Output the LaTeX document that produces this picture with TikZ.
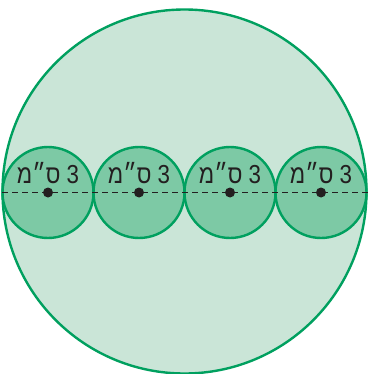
\documentclass[tikz,border=0pt]{standalone}
\usepackage{fontspec}
\TeXXeTstate=1
\newfontfamily\hebfont[Script=Hebrew,FakeStretch=0.86]{Liberation Sans}
\definecolor{rimgreen}{HTML}{00A05F}
\definecolor{bigfill}{HTML}{CAE5D7}
\definecolor{smallfill}{HTML}{7DC9A5}
\definecolor{inkdark}{HTML}{231F20}
\tikzset{
  bigcirc/.style={circle, draw=rimgreen, fill=bigfill, line width=2.4pt, minimum size=364pt, inner sep=0pt},
  smallcirc/.style={circle, draw=rimgreen, fill=smallfill, line width=2.4pt, minimum size=91pt, inner sep=0pt},
  centerdot/.style={circle, fill=inkdark, minimum size=10pt, inner sep=0pt},
  dimlabel/.style={font=\hebfont\fontsize{26}{26}\selectfont, text=inkdark, inner sep=0pt, anchor=base},
  dimline/.style={draw=inkdark, line width=1.6pt, dash pattern=on 6pt off 4pt}
}
\begin{document}
\begin{tikzpicture}[x=1pt,y=-1pt]
\useasboundingbox (0,0) rectangle (372,374);
\node[bigcirc] (big) at (184.5,191.5) {};
\foreach \i/\x in {1/48,2/139,3/230,4/321}{
  \node[smallcirc] (c\i) at (\x,192.5) {};
}
\coordinate (lft) at (2,192.5);
\coordinate (rgt) at (369,192.5);
\draw[dimline] (lft) -- (rgt);
\foreach \i/\x in {1/48,2/139,3/230,4/321}{
  \node[centerdot] (d\i) at (\x,192.5) {};
  \node[dimlabel] (t\i) at (\x,183) {\beginR 3 ס״מ\endR};
}
\end{tikzpicture}
\end{document}
